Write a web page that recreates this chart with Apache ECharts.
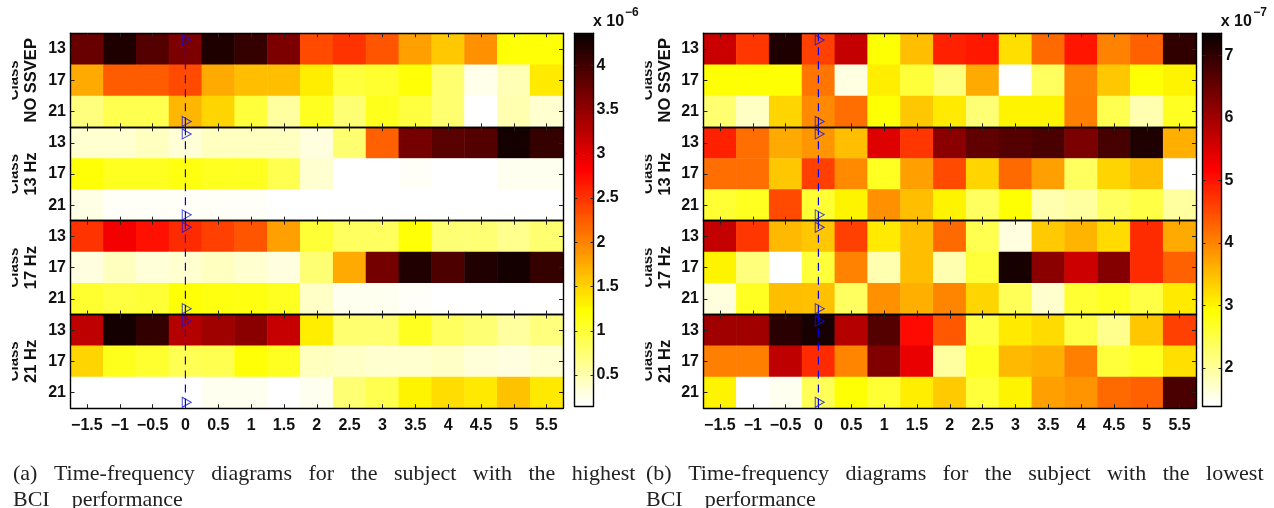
<!DOCTYPE html>
<html><head><meta charset="utf-8">
<style>html,body{margin:0;padding:0;background:#fff}#c{width:1274px;height:508px}</style>
<script src="https://cdn.jsdelivr.net/npm/echarts@6/dist/echarts.min.js"></script>
</head><body><div id="c"></div>
<script>
const timeLabels = ['−1.5','−1','−0.5','0','0.5','1','1.5','2','2.5','3','3.5','4','4.5','5','5.5'];
const freqLabels = ['13','17','21'];
const classNames = ['NO SSVEP','13 Hz','17 Hz','21 Hz'];
const cbTicksA = [0.5,1,1.5,2,2.5,3,3.5,4];
const cbTicksB = [2,3,4,5,6,7];
const timeTicks = [-1.5,-1,-0.5,0,0.5,1,1.5,2,2.5,3,3.5,4,4.5,5,5.5];
const freqTicks = [13,17,21];

const aNoSsvep = [
 [3.77,4.23,3.9,3.64,4.23,4.07,3.64,2.34,2.51,2.3,1.83,1.58,1.92,1.2,1.2],
 [1.75,2.25,2.25,2.34,1.75,1.64,1.64,1.33,0.99,1.03,1.2,0.78,0.26,0.47,1.35],
 [0.72,0.91,0.91,1.67,1.48,0.99,0.57,1.08,0.74,1.12,0.95,0.78,0.15,0.49,0.36]];
const a13Hz = [
 [0.38,0.38,0.42,0.33,0.42,0.42,0.42,0.3,0.78,2.23,3.69,3.85,3.9,4.27,4.07],
 [1.2,1.1,1.1,1.15,1.1,1.1,0.9,0.35,0.15,0.15,0.2,0.15,0.15,0.22,0.22],
 [0.27,0.2,0.2,0.2,0.2,0.2,0.15,0.15,0.15,0.15,0.15,0.15,0.15,0.15,0.15]];
const a17Hz = [
 [2.51,2.89,2.72,2.55,2.42,2.3,1.83,1.0,0.82,0.82,1.2,0.74,0.74,0.65,0.78],
 [0.3,0.45,0.33,0.38,0.42,0.38,0.3,0.74,1.75,3.67,4.2,3.92,4.2,4.27,4.07],
 [1.03,0.95,1.0,1.2,1.15,1.15,1.08,0.4,0.22,0.22,0.2,0.15,0.15,0.15,0.15]];
const a21Hz = [
 [3.22,4.27,4.1,3.3,3.43,3.56,3.18,1.33,0.78,0.76,1.08,0.82,0.74,0.57,0.72],
 [1.5,1.12,1.03,0.87,0.9,1.2,1.08,0.45,0.4,0.38,0.38,0.4,0.33,0.3,0.38],
 [0.15,0.15,0.15,0.15,0.22,0.24,0.15,0.24,0.74,0.9,1.3,1.45,1.38,1.6,1.38]];
const bNoSsvep = [
 [5.62,4.67,7.17,4.6,5.68,2.88,3.5,4.9,4.95,3.18,4.25,5.0,4.01,4.31,7.0],
 [2.88,2.88,2.88,4.13,1.57,3.06,2.58,2.2,3.65,1.39,2.34,4.01,3.42,2.88,3.0],
 [2.28,1.75,3.3,3.95,4.19,2.88,3.42,3.12,2.22,3.0,3.0,4.04,2.46,1.87,2.7]];
const b13Hz = [
 [4.9,4.19,3.65,3.83,3.48,5.44,4.67,6.22,6.57,6.69,6.75,6.34,6.8,7.17,3.62],
 [4.19,4.19,3.42,4.62,3.95,2.7,3.75,4.49,3.3,4.25,3.78,2.34,3.3,3.5,1.39],
 [2.6,2.75,4.52,2.6,3.0,3.9,3.5,3.0,2.34,2.88,1.87,1.95,2.34,2.5,1.95]];
const b17Hz = [
 [5.68,4.67,3.53,3.42,4.6,3.12,3.5,4.25,2.46,1.6,3.36,3.56,3.24,4.8,3.65],
 [3.0,2.2,1.39,2.58,4.01,1.87,3.48,1.9,2.58,7.2,6.22,5.6,6.25,4.8,4.31],
 [1.63,2.7,3.5,3.45,2.34,3.9,3.62,4.0,3.3,2.4,1.72,2.6,2.75,2.5,3.12]];
const b21Hz = [
 [5.98,5.98,7.05,7.2,5.85,6.69,5.1,4.38,2.5,3.12,3.24,2.5,2.1,3.42,4.6],
 [4.04,4.04,5.75,4.8,4.0,6.28,5.35,1.95,2.7,3.53,3.62,4.04,2.58,2.75,3.18],
 [3.0,1.39,1.5,2.4,2.88,2.6,3.06,3.36,2.58,3.03,3.78,3.88,4.25,4.31,6.75]];
const eventLine = [[0,11],[0,23]];
const eventMarks = [[0,11.85],[0,22.25]];

// flipped MATLAB "hot", 64 steps
const hot = [];
for (let k = 63; k >= 0; k--) {
  const cl = v => Math.round(255 * Math.max(0, Math.min(1, v)));
  const c = `rgb(${cl((k+1)/24)},${cl((k+1-24)/24)},${cl((k+1-48)/16)})`;
  hot.push(c, c);
}

const tops = [33.3,127.3,220.7,314.5];
const rowH = [94,93.4,93.8,93.7];
const panels = [
 {left:70.5,right:563,bar:[574.5,593.5],rng:[0.15,4.36],ticks:cbTicksA,data:[aNoSsvep,a13Hz,a17Hz,a21Hz],
  cName:14,hName:31.5,clip:[0,12],exp:['−6',593,625]},
 {left:703.5,right:1196,bar:[1202.5,1221.5],rng:[1.39,7.35],ticks:cbTicksB,data:[bNoSsvep,b13Hz,b17Hz,b21Hz],
  cName:648,hName:665,clip:[640,645.3],exp:['−7',1220.7,1253.3]}
];
const FONT = '"Liberation Sans",Arial,sans-serif';
const grid=[],xAxis=[],yAxis=[],series=[],visualMap=[],graphic=[];
const line={onZero:false,show:true,lineStyle:{color:'#000',width:1.4}};

panels.forEach(p=>{
  const heatIdx=[];
  p.data.forEach((rows,r)=>{
    const g=grid.length;
    grid.push({left:p.left,top:tops[r],width:p.right-p.left,height:rowH[r]});
    const xi=xAxis.length, yi=yAxis.length;
    xAxis.push({type:'category',gridIndex:g,data:timeLabels,position:'bottom',z:5,
      axisLine:line,splitLine:{show:false},
      axisTick:{show:true,inside:true,alignWithLabel:true,length:4,interval:0,lineStyle:{color:'#222',width:1}},
      axisLabel:{show:r===3,interval:0,margin:9,fontFamily:FONT,fontWeight:'bold',fontSize:16,color:'#111'}});
    xAxis.push({type:'value',gridIndex:g,position:'top',min:-1.75,max:5.75,z:5,
      axisLine:line,splitLine:{show:false},
      axisTick:{show:true,inside:true,length:4,customValues:timeTicks,lineStyle:{color:'#222',width:1}},
      axisLabel:{show:false}});
    yAxis.push({type:'category',gridIndex:g,data:freqLabels,inverse:true,position:'left',z:5,
      axisLine:line,splitLine:{show:false},
      axisTick:{show:true,inside:true,alignWithLabel:true,length:4,interval:0,lineStyle:{color:'#222',width:1}},
      axisLabel:{show:true,interval:0,margin:4.5,fontFamily:FONT,fontWeight:'bold',fontSize:16,color:'#111'}});
    yAxis.push({type:'value',gridIndex:g,position:'right',min:11,max:23,inverse:true,z:5,
      axisLine:line,splitLine:{show:false},
      axisTick:{show:true,inside:true,length:4,customValues:freqTicks,lineStyle:{color:'#222',width:1}},
      axisLabel:{show:false}});
    const cells=[];
    rows.forEach((row,ri)=>row.forEach((v,ci)=>cells.push([ci,ri,v])));
    heatIdx.push(series.length);
    series.push({type:'heatmap',xAxisIndex:xi,yAxisIndex:yi,data:cells,z:2,silent:true,progressive:0,animation:false});
    series.push({type:'line',xAxisIndex:xi+1,yAxisIndex:yi+1,data:eventLine,symbol:'none',z:6,silent:true,animation:false,
      lineStyle:{color:'#0000ee',width:1.2,type:[8,6]}});
    series.push({type:'scatter',xAxisIndex:xi+1,yAxisIndex:yi+1,data:eventMarks,z:7,silent:true,animation:false,
      symbol:'path://M0,0 L9,5 L0,10 Z',symbolSize:[9,10],symbolOffset:[1.3,0],
      itemStyle:{color:'rgba(0,0,0,0)',borderColor:'#1010ee',borderWidth:1}});
    graphic.push({type:'text',x:p.cName,y:tops[r]+rowH[r]/2,rotation:Math.PI/2,z:20,
      style:{text:'Class',font:'bold 15px '+FONT,fill:'#111',textAlign:'center',textVerticalAlign:'middle'}});
    graphic.push({type:'text',x:p.hName,y:tops[r]+rowH[r]/2,rotation:Math.PI/2,z:20,
      style:{text:classNames[r],font:'bold 16.5px '+FONT,fill:'#111',textAlign:'center',textVerticalAlign:'middle'}});
  });
  graphic.push({type:'rect',z:21,shape:{x:p.clip[0],y:33,width:p.clip[1]-p.clip[0],height:375},style:{fill:'#fff'}});
  visualMap.push({type:'continuous',seriesIndex:heatIdx,min:p.rng[0],max:p.rng[1],calculable:false,hoverLink:false,
    left:p.bar[0],top:33.3,itemWidth:p.bar[1]-p.bar[0],itemHeight:372.7,padding:0,text:null,showLabel:false,
    inRange:{color:hot},orient:'vertical'});
  const g=grid.length, xi=xAxis.length, yi=yAxis.length;
  grid.push({left:p.bar[0],top:33.3,width:p.bar[1]-p.bar[0],height:372.7});
  xAxis.push({type:'value',gridIndex:g,position:'bottom',min:0,max:1,z:5,axisLine:line,axisTick:{show:false},axisLabel:{show:false},splitLine:{show:false}});
  xAxis.push({type:'value',gridIndex:g,position:'top',min:0,max:1,z:5,axisLine:line,axisTick:{show:false},axisLabel:{show:false},splitLine:{show:false}});
  yAxis.push({type:'value',gridIndex:g,position:'left',min:p.rng[0],max:p.rng[1],z:5,axisLine:line,splitLine:{show:false},
    axisTick:{show:true,inside:true,length:3,customValues:p.ticks,lineStyle:{color:'#222',width:1}},axisLabel:{show:false}});
  yAxis.push({type:'value',gridIndex:g,position:'right',min:p.rng[0],max:p.rng[1],z:5,axisLine:line,splitLine:{show:false},
    axisTick:{show:true,inside:true,length:3,customValues:p.ticks,lineStyle:{color:'#222',width:1}},
    axisLabel:{show:true,margin:3,customValues:p.ticks,fontFamily:FONT,fontWeight:'bold',fontSize:16,color:'#111'}});
  series.push({type:'scatter',xAxisIndex:xi,yAxisIndex:yi,data:[],silent:true});
  series.push({type:'scatter',xAxisIndex:xi+1,yAxisIndex:yi+1,data:[],silent:true});
  graphic.push({type:'text',x:p.exp[1],y:21.5,z:20,style:{text:'x 10',font:'bold 16px '+FONT,fill:'#111',textAlign:'left',textVerticalAlign:'middle'}});
  graphic.push({type:'text',x:p.exp[2],y:13,z:20,style:{text:p.exp[0],font:'bold 12px '+FONT,fill:'#111',textAlign:'left',textVerticalAlign:'middle'}});
});

const serif='"Liberation Serif",serif';
const sp='   ';
const capA=['(a)','Time-frequency','diagrams','for','the','subject','with','the','highest'].join(sp);
const capB=['(b)','Time-frequency','diagrams','for','the','subject','with','the','lowest'].join(sp);
const capEnd='BCI    performance';
[[capA,13,474.5],[capEnd,13,500.5],[capB,646,474.5],[capEnd,646,500.5]].forEach(t=>
  graphic.push({type:'text',x:t[1],y:t[2],z:20,style:{text:t[0],font:'22px '+serif,fill:'#222',textAlign:'left',textVerticalAlign:'middle'}}));

const chart=echarts.init(document.getElementById('c'),null,{renderer:'canvas'});
chart.setOption({animation:false,backgroundColor:'#fff',tooltip:{show:false},grid,xAxis,yAxis,visualMap,series,graphic});
</script></body></html>
